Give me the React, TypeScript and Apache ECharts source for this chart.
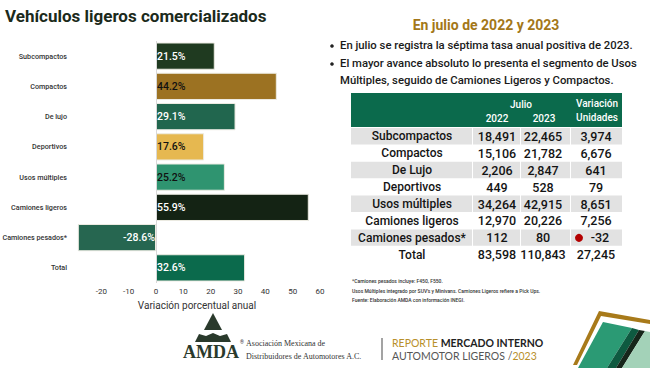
import React, { useEffect, useRef } from "react";
import * as echarts from "echarts";

const categories = ["Subcompactos", "Compactos", "De lujo", "Deportivos", "Usos múltiples", "Camiones ligeros", "Camiones pesados*", "Total"];
const variation = [21.5, 44.2, 29.1, 17.6, 25.2, 55.9, -28.6, 32.6];
const barColors = ["#1f3a20", "#9c7222", "#21664e", "#e6b850", "#2f9470", "#142314", "#266650", "#0b6a4c"];
const labelColors = ["#ffffff", "#111111", "#ffffff", "#111111", "#111111", "#ffffff", "#ffffff", "#ffffff"];
const xTicks = [-30, -20, -10, 0, 10, 20, 30, 40, 50, 60];

const tableCats = ["Subcompactos", "Compactos", "De Lujo", "Deportivos", "Usos múltiples", "Camiones ligeros", "Camiones pesados*", "Total"];
const units2022 = [18491, 15106, 2206, 449, 34264, 12970, 112, 83598];
const units2023 = [22465, 21782, 2847, 528, 42915, 20226, 80, 110843];
const unitsVar = [3974, 6676, 641, 79, 8651, 7256, -32, 27245];

const bullets = [
  "En julio se registra la séptima tasa anual positiva de 2023.",
  "El mayor avance absoluto lo presenta el segmento de Usos",
  "Múltiples, seguido de Camiones Ligeros y Compactos.",
];
const notes = [
  "*Camiones pesados incluye: F450, F550.",
  "Usos Múltiples integrado por SUV's y Minivans. Camiones Ligeros refiere a Pick Ups.",
  "Fuente: Elaboración AMDA con información INEGI.",
];

const fmt = (v: number) => v.toLocaleString("en-US");

export default function App() {
  const ref = useRef<HTMLDivElement>(null);
  useEffect(() => {
    if (!ref.current) return;
    const chart = echarts.init(ref.current, undefined, { renderer: "svg" });
    const FONT = "Roboto";

    const graphics: any[] = [];
    graphics.push({
      type: "text", left: 5, top: 7,
      style: { text: "Vehículos ligeros comercializados", font: `bold 17px ${FONT}`, fill: "#1b2a1b" },
    });
    graphics.push({
      type: "text", x: 486, y: 25,
      style: { text: "En julio de 2022 y 2023", font: `bold 14px ${FONT}`, fill: "#a37718", align: "center", verticalAlign: "middle" },
    });
    const bulletY = [45, 63, 80];
    bullets.forEach((b, i) => {
      if (i !== 2) {
        graphics.push({ type: "circle", shape: { cx: 332, cy: bulletY[i] + 1, r: 1.8 }, style: { fill: "#222" } });
      }
      graphics.push({
        type: "text", x: 340, y: bulletY[i],
        style: { text: b, font: `500 11.3px ${FONT}`, fill: "#1a1a1a", verticalAlign: "middle" },
      });
    });

    // Table
    const tx0 = 351, tx1 = 622;
    const colBounds = [[351, 472], [473, 520], [521, 570], [571, 622]];
    const colCenters = [412, 497, 543, 596];
    graphics.push({ type: "rect", shape: { x: tx0, y: 93, width: tx1 - tx0, height: 34 }, style: { fill: "#0b6a4c" } });
    const hdr = (t: string, x: number, y: number) => ({
      type: "text", x, y,
      style: { text: t, font: `500 10px ${FONT}`, fill: "#ffffff", align: "center", verticalAlign: "middle" },
    });
    graphics.push(hdr("Julio", 521, 104));
    graphics.push(hdr("2022", 497, 118));
    graphics.push(hdr("2023", 544, 118));
    graphics.push(hdr("Variación", 597, 103));
    graphics.push(hdr("Unidades", 597, 117));

    const rowH = 16.9;
    const rowTop0 = 128;
    tableCats.forEach((c, i) => {
      const top = rowTop0 + i * rowH;
      const cy = top + rowH / 2;
      if (i % 2 === 0 && i < 7) {
        colBounds.forEach(([a, b]) => {
          graphics.push({ type: "rect", shape: { x: a, y: top, width: b - a, height: rowH - 0.5 }, style: { fill: "#e2e2e2" } });
        });
      }
      const vals = [c, fmt(units2022[i]), fmt(units2023[i]), fmt(unitsVar[i])];
      vals.forEach((v, j) => {
        let x = colCenters[j];
        if (j === 3 && unitsVar[i] < 0) x = 600;
        graphics.push({
          type: "text", x, y: cy,
          style: { text: v, font: `500 ${j === 0 ? 12 : 12.5}px ${FONT}`, fill: "#141414", align: "center", verticalAlign: "middle" },
        });
      });
      if (unitsVar[i] < 0) {
        graphics.push({ type: "circle", shape: { cx: 579, cy, r: 4 }, style: { fill: "#b30000" } });
      }
    });

    notes.forEach((n, i) => {
      graphics.push({
        type: "text", x: 352, y: 281 + i * 9.5,
        style: { text: n, font: `500 5px ${FONT}`, fill: "#333", verticalAlign: "middle" },
      });
    });

    // AMDA logo
    graphics.push({ type: "polygon", shape: { points: [[204, 330], [213, 313], [222, 330]] }, style: { fill: "#2a3a2c" } });
    graphics.push({
      type: "polygon",
      shape: { points: [[195, 342], [199, 334], [206, 336], [213, 333], [220, 336], [227, 334], [231, 342]] },
      style: { fill: "#2a3a2c" },
    });
    graphics.push({
      type: "text", x: 183, y: 352,
      style: { text: "AMDA", font: `bold 18px 'Liberation Serif'`, fill: "#2a3a2c", verticalAlign: "middle" },
    });
    graphics.push({ type: "text", x: 240, y: 342, style: { text: "®", font: `5px ${FONT}`, fill: "#333", verticalAlign: "middle" } });
    graphics.push({ type: "text", x: 246, y: 343, style: { text: "Asociación Mexicana de", font: `8px 'Liberation Serif'`, fill: "#333", verticalAlign: "middle" } });
    graphics.push({ type: "text", x: 246, y: 356, style: { text: "Distribuidores de Automotores A.C.", font: `8px 'Liberation Serif'`, fill: "#333", verticalAlign: "middle" } });
    graphics.push({ type: "line", shape: { x1: 382, y1: 338, x2: 382, y2: 360 }, style: { stroke: "#666", lineWidth: 1.2 } });
    graphics.push({
      type: "text", x: 392, y: 343,
      style: {
        text: "{a|REPORTE }{b|MERCADO INTERNO}", verticalAlign: "middle",
        rich: {
          a: { font: `10.5px Lato`, fill: "#b8902a" },
          b: { font: `bold 10.5px Lato`, fill: "#222" },
        },
      },
    });
    graphics.push({
      type: "text", x: 392, y: 356,
      style: {
        text: "{a|AUTOMOTOR LIGEROS /}{b|2023}", verticalAlign: "middle",
        rich: {
          a: { font: `10.5px Lato`, fill: "#555" },
          b: { font: `10.5px Lato`, fill: "#b8902a" },
        },
      },
    });

    // Decorative stripes bottom right
    graphics.push({ type: "polygon", shape: { points: [[573, 365], [599, 311], [650, 320], [650, 324], [601, 316], [577, 365]] }, style: { fill: "#a87a1a" } });
    graphics.push({ type: "polygon", shape: { points: [[578, 368], [603, 322], [632, 328], [607, 368]] }, style: { fill: "#2b9a74" } });
    graphics.push({ type: "polygon", shape: { points: [[607, 368], [632, 328], [639, 330], [616, 368]] }, style: { fill: "#0e5a40" } });
    graphics.push({ type: "polygon", shape: { points: [[616, 368], [639, 330], [645, 331], [622, 368]] }, style: { fill: "#16261a" } });
    graphics.push({ type: "polygon", shape: { points: [[622, 368], [645, 331], [650, 332], [650, 368]] }, style: { fill: "#a3d2b8" } });

    const data = variation.map((v, i) => ({
      value: v,
      itemStyle: { color: barColors[i] },
      label: { color: labelColors[i], position: v < 0 ? "insideRight" : "insideLeft" },
    }));

    chart.setOption({
      animation: false,
      backgroundColor: "#ffffff",
      grid: { left: 74, right: 330, top: 41, bottom: 85, outerBoundsMode: "none", containLabel: false },
      xAxis: {
        type: "value", min: xTicks[0], max: xTicks[xTicks.length - 1], interval: 10,
        axisLine: { show: false }, axisTick: { show: false }, splitLine: { show: false },
        axisLabel: {
          fontFamily: FONT, fontSize: 8, color: "#333", margin: 4,
          formatter: (v: number) => (v === xTicks[0] ? "" : String(v)),
        },
        name: "Variación porcentual anual", nameLocation: "middle", nameGap: 17,
        nameTextStyle: { fontFamily: FONT, fontSize: 10, color: "#333" },
      },
      yAxis: {
        type: "category", data: categories, inverse: true,
        axisLine: { show: false, onZero: false }, axisTick: { show: false },
        axisLabel: { fontFamily: FONT, fontSize: 7.2, fontWeight: 500, color: "#333", margin: 7 },
      },
      series: [{
        type: "bar", data, barCategoryGap: "10%",
        itemStyle: { borderColor: "#ecebe2", borderWidth: 1 },
        label: { show: true, fontFamily: FONT, fontSize: 10.5, fontWeight: 500, distance: 1, formatter: (p: any) => `${p.value}%` },
        markLine: {
          silent: true, symbol: "none", label: { show: false },
          lineStyle: { color: "#d8d8d8", width: 1, type: "solid" },
          data: [{ xAxis: 0 }],
        },
      }],
      graphic: graphics,
    });
    return () => chart.dispose();
  }, []);
  return <div ref={ref} style={{ position: "fixed", left: 0, top: 0, width: 650, height: 368, background: "#fff" }} />;
}
